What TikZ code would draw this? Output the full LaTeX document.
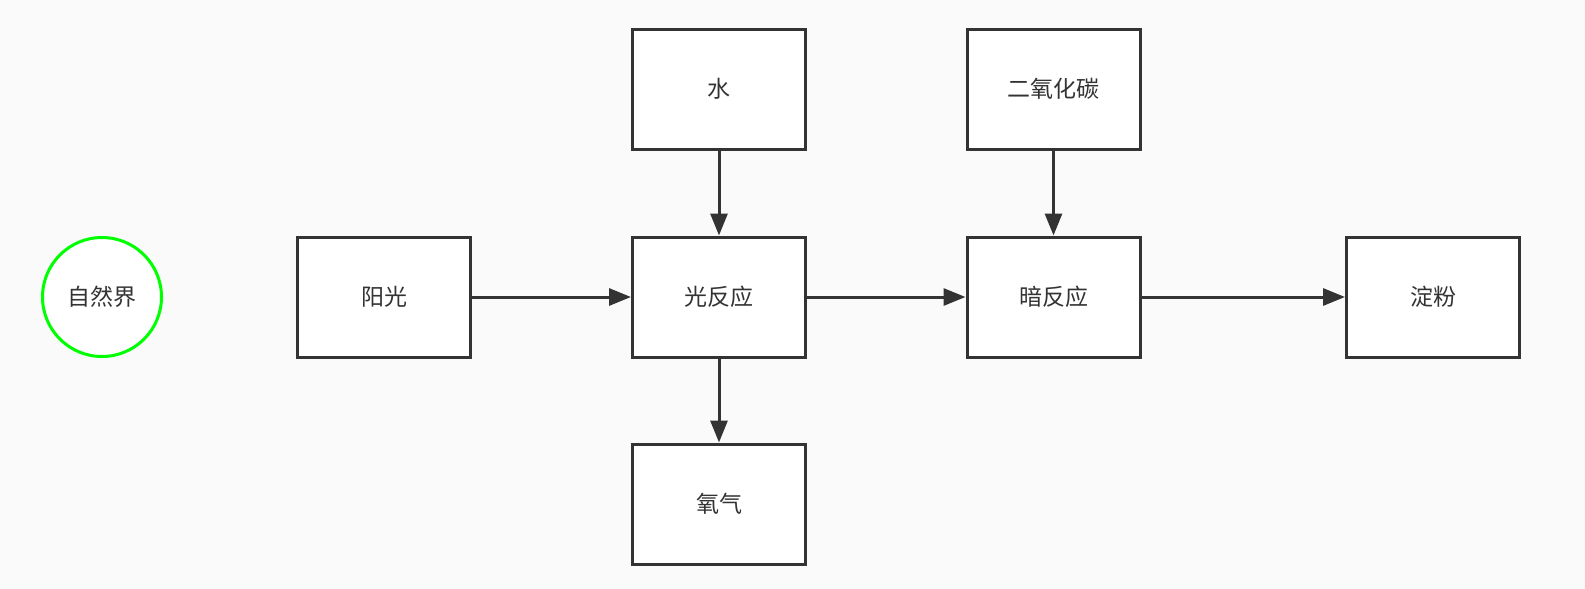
\documentclass[tikz,border=0pt]{standalone}
\usepackage{fontspec}
\setmainfont{Noto Sans CJK SC}
\usetikzlibrary{arrows.meta}
\definecolor{linecol}{HTML}{333333}
\definecolor{bgcol}{HTML}{FAFAFA}
\definecolor{circcol}{HTML}{00FF00}
\begin{document}
\begin{tikzpicture}[>={Triangle[length=11pt,width=8.5pt]}, node distance=167.5pt, x=0.5pt, y=-0.5pt,
  every node/.style={font=\fontsize{11.5pt}{13pt}\selectfont, text=linecol},
  box/.style={draw=linecol, line width=1.5pt, fill=white, minimum width=86.5pt, minimum height=60pt},
  circ/.style={draw=circcol, circle, line width=1.5pt, fill=white, minimum size=59.5pt, inner sep=0pt},
  link/.style={->, draw=linecol, line width=1.5pt}]
\fill[bgcol] (0,0) rectangle (1585,589);
\node[circ] (nature) at (102,297) {自然界};
\node[box] (sun) at (384,297) {阳光};
\node[box, right of=sun] (light) {光反应};
\node[box, above of=light, node distance=104pt] (water) {水};
\node[box, below of=light, node distance=103.5pt] (oxygen) {氧气};
\node[box, right of=light, node distance=167.25pt] (dark) {暗反应};
\node[box, above of=dark, node distance=104pt] (co2) {二氧化碳};
\node[box, right of=dark, node distance=189.75pt] (starch) {淀粉};
\draw[link] (sun) -- (light);
\draw[link] (water) -- (light);
\draw[link] (light) -- (oxygen);
\draw[link] (light) -- (dark);
\draw[link] (co2) -- (dark);
\draw[link] (dark) -- (starch);
\end{tikzpicture}
\end{document}
